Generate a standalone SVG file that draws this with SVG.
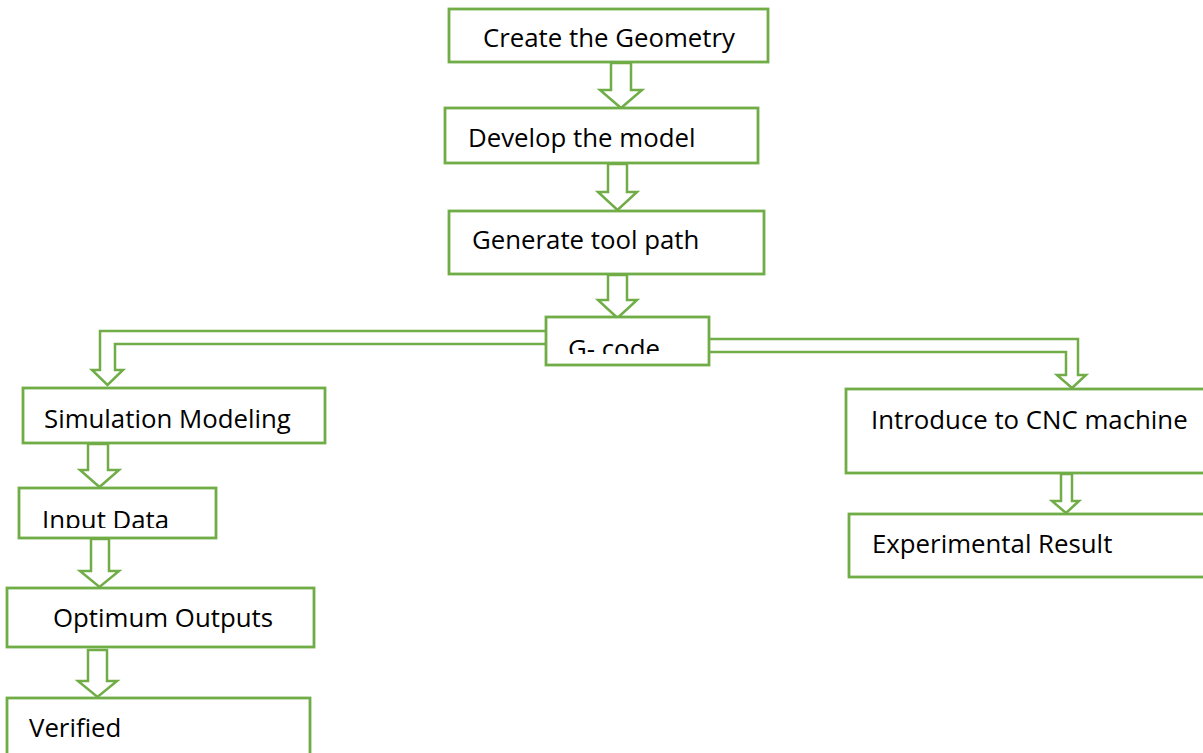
<svg xmlns="http://www.w3.org/2000/svg" width="1203" height="753" viewBox="0 0 1203 753">
<style>
.box{fill:#fff;stroke:#70AD47;stroke-width:2.8}
.arr{fill:#fff;stroke:#70AD47;stroke-width:2.5;stroke-linejoin:miter}
.t{font-family:"Open Sans","Noto Sans",sans-serif;font-size:25.8px;fill:#000}
</style>
<defs>
<clipPath id="cg"><rect x="546" y="317" width="163" height="37"/></clipPath>
<clipPath id="ci"><rect x="19" y="488" width="197" height="40"/></clipPath>
</defs>
<rect width="1203" height="753" fill="#fff"/>
<g id="connectors">
<path class="arr" d="M611,63 L631,63 L631,90 L642,90 L621,108 L600,90 L611,90 Z"/>
<path class="arr" d="M608,164 L627,164 L627,192 L637,192 L617.5,210 L598,192 L608,192 Z"/>
<path class="arr" d="M608,275 L627,275 L627,300 L637,300 L617.5,318 L598,300 L608,300 Z"/>
<path class="arr" d="M546,331 L100,331 L100,370 L92,370 L107.5,385 L123,370 L115,370 L115,344 L546,344"/>
<path class="arr" d="M707,339 L1078,339 L1078,375 L1086,375 L1072,388 L1057,375 L1066,375 L1066,352 L707,352 Z"/>
<path class="arr" d="M88,444 L108,444 L108,470 L119,470 L99.5,487 L80,470 L88,470 Z"/>
<path class="arr" d="M91,539 L109,539 L109,571 L119,571 L99.5,587 L80,571 L91,571 Z"/>
<path class="arr" d="M88,650 L107,650 L107,681 L117,681 L97.5,697 L78,681 L88,681 Z"/>
<path class="arr" d="M1061,474 L1072,474 L1072,501 L1079,501 L1066,513 L1052,501 L1061,501 Z"/>
</g>
<g id="n1"><rect class="box" x="449" y="9" width="319" height="53"/><text class="t" x="483" y="47">Create the Geometry</text></g>
<g id="n2"><rect class="box" x="445" y="108" width="313" height="55"/><text class="t" x="468" y="147">Develop the model</text></g>
<g id="n3"><rect class="box" x="449" y="211" width="315" height="63"/><text class="t" x="472" y="249">Generate tool path</text></g>
<g id="n4"><rect class="box" x="546" y="317" width="163" height="48"/><text class="t" x="568" y="358" clip-path="url(#cg)">G- code</text></g>
<g id="n5"><rect class="box" x="23" y="388" width="302" height="55"/><text class="t" x="44" y="428">Simulation Modeling</text></g>
<g id="n6"><rect class="box" x="19" y="488" width="197" height="50"/><text class="t" x="42" y="529" clip-path="url(#ci)">Input Data</text></g>
<g id="n7"><rect class="box" x="7" y="588" width="307" height="59"/><text class="t" x="53" y="627">Optimum Outputs</text></g>
<g id="n8"><rect class="box" x="7" y="698" width="303" height="70"/><text class="t" x="29" y="737">Verified</text></g>
<g id="n9"><rect class="box" x="846" y="389" width="370" height="84"/><text class="t" x="871" y="429">Introduce to CNC machine</text></g>
<g id="n10"><rect class="box" x="849" y="514" width="367" height="63"/><text class="t" x="872" y="553">Experimental Result</text></g>
</svg>
